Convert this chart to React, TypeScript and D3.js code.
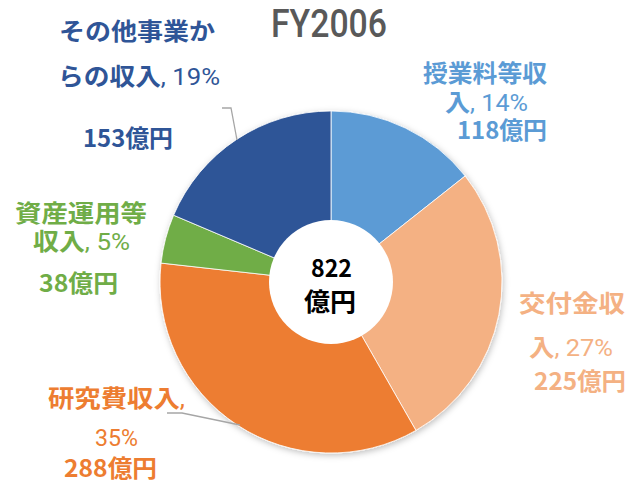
import React from "react";
import * as d3 from "d3";

const title = "FY2006";
const categories = ["授業料等収入", "交付金収入", "研究費収入", "資産運用等収入", "その他事業からの収入"];
const values = [118, 225, 288, 38, 153];
const percents = [14, 27, 35, 5, 19];
const totalLabel = "822";
const unit = "億円";
const colors = ["#5B9BD5", "#F4B183", "#ED7D31", "#70AD47", "#2F5597"];
// where each category name wraps to the second label line
const nameBreaks = [5, 4, 5, 5, 6];
// layout for each label's three lines: [left x, baseline y, width]
const labelLayout: number[][][] = [
  [[423, 82, 124], [445, 111, 83], [457, 139, 90]],
  [[519, 312, 106], [529, 356, 84], [534, 390, 92]],
  [[48, 407, 137], [95, 446, 43], [64, 477, 93]],
  [[15, 222, 132], [33, 250, 97], [39, 292, 79]],
  [[59, 40, 156], [58, 85, 162], [83, 147, 90]],
];

const W = 630, H = 483;
const cx = 331, cy = 282, R = 171, r0 = 62;
const CJK = "'Noto Sans CJK JP', 'Noto Sans', sans-serif";
const LATIN = "Roboto, 'Noto Sans', sans-serif";

type Seg = { t: string; bold: boolean };

function labelLines(i: number): Seg[][] {
  const name = categories[i];
  const b = nameBreaks[i];
  const pct = `${percents[i]}%`;
  const val: Seg[] = [
    { t: `${values[i]}`, bold: true },
    { t: unit, bold: true },
  ];
  if (b >= name.length) {
    return [
      [{ t: name, bold: true }, { t: ",", bold: false }],
      [{ t: pct, bold: false }],
      val,
    ];
  }
  return [
    [{ t: name.slice(0, b), bold: true }],
    [{ t: name.slice(b), bold: true }, { t: `, ${pct}`, bold: false }],
    val,
  ];
}

export default function App() {
  const pie = d3.pie<number>().sort(null).value((d) => d);
  const arcs = pie(values);
  const arc = d3.arc<d3.PieArcDatum<number>>().innerRadius(0).outerRadius(R);

  return (
    <svg width={W} height={H} style={{ position: "absolute", left: 0, top: 0, background: "#fff" }}>
      <defs>
        <filter id="sh" x="-20%" y="-20%" width="140%" height="140%">
          <feDropShadow dx="1" dy="2" stdDeviation="3" floodColor="#000" floodOpacity="0.25" />
        </filter>
      </defs>
      <text x={271} y={37} textLength={116} lengthAdjust="spacingAndGlyphs" fontFamily={LATIN} fontWeight={500} fontSize={38} fill="#595959">
        {title}
      </text>
      <g transform={`translate(${cx},${cy})`}>
        <g filter="url(#sh)">
          {arcs.map((a, i) => (
            <path key={i} d={arc(a) || ""} fill={colors[i]} stroke="#ffffff" strokeWidth={0.8} />
          ))}
        </g>
        <circle r={r0} fill="#ffffff" />
        <text x={-20} y={-5} textLength={41} lengthAdjust="spacingAndGlyphs" fontFamily={CJK} fontWeight="bold" fontSize={24} fill="#000">
          {totalLabel}
        </text>
        <text x={-27} y={29} textLength={52} lengthAdjust="spacingAndGlyphs" fontFamily={CJK} fontWeight="bold" fontSize={25} fill="#000">
          {unit}
        </text>
      </g>
      <polyline points="222,108 231,108 237,140" fill="none" stroke="#a6a6a6" strokeWidth={1.3} />
      <polyline points="167,413 182,413 240,425" fill="none" stroke="#a6a6a6" strokeWidth={1.3} />
      {categories.map((_, i) =>
        labelLines(i).map((segs, j) => {
          const [x, y, w] = labelLayout[i][j];
          return (
            <text key={`${i}-${j}`} x={x} y={y} textLength={w} lengthAdjust="spacingAndGlyphs" fontFamily={CJK} fontSize={24} fill={colors[i]}>
              {segs.map((s, k) => (
                <tspan key={k} fontWeight={s.bold ? "bold" : 400} fontFamily={s.bold ? CJK : LATIN}>{s.t}</tspan>
              ))}
            </text>
          );
        })
      )}
    </svg>
  );
}
